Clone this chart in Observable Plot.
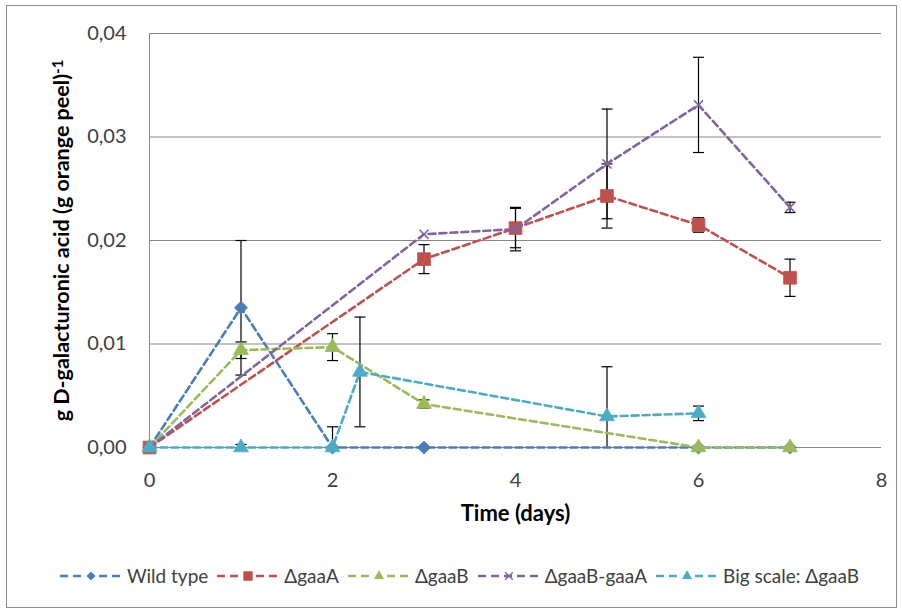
<!DOCTYPE html>
<html><head><meta charset="utf-8">
<script src="https://cdn.jsdelivr.net/npm/d3@7"></script>
<script src="https://cdn.jsdelivr.net/npm/@observablehq/plot@0.6"></script>
<style>
body{margin:0;background:#fff;font-family:Lato,"Open Sans",sans-serif}
#wrap{position:relative;width:902px;height:610px;overflow:hidden;background:#fff}
#frame{position:absolute;left:6px;top:5px;width:891px;height:603px;border:1.5px solid #8c8c8c;box-sizing:border-box}
#chart{position:absolute;left:0;top:0}
#legend{position:absolute;left:8px;top:564px;width:902px;display:flex;justify-content:center;align-items:center;font-size:19px;color:#404040}
.item{display:flex;align-items:center;margin:0 4px}
.item svg{margin-right:4px}
</style>
</head><body>
<div id="wrap"><div id="frame"></div><div id="chart"></div><div id="legend"></div></div>
<script>
// ---- data ----
const seriesNames = ["Wild type", "ΔgaaA", "ΔgaaB", "ΔgaaB-gaaA", "Big scale: ΔgaaB"];

const wtX   = [0, 1, 2, 3, 6, 7];
const wtY   = [0, 0.0135, 0, 0, 0, 0];
const wtErr = [0, 0.0065, 0.002, 0, 0, 0];

const aX   = [0, 3, 4, 5, 6, 7];
const aY   = [0, 0.0182, 0.0212, 0.0243, 0.0215, 0.0164];
const aErr = [0, 0.0014, 0.0019, 0.0031, 0.0007, 0.0018];

const bX   = [0, 1, 2, 3, 6, 7];
const bY   = [0, 0.0094, 0.0097, 0.0042, 0, 0];
const bErr = [0, 0.0008, 0.0013, 0.0004, 0, 0];

const baX   = [0, 3, 4, 5, 6, 7];
const baY   = [0, 0.0206, 0.0211, 0.0274, 0.0331, 0.0232];
const baErr = [0, 0, 0.0021, 0.0053, 0.0046, 0.0005];

const bsX   = [0, 1, 2, 2.3, 5, 6];
const bsY   = [0, 0, 0, 0.0073, 0.0030, 0.0033];
const bsErr = [0, 0.0003, 0, 0.0053, 0.0048, 0.0007];

const xTicks = [0, 2, 4, 6, 8];
const yTicks = [0, 0.01, 0.02, 0.03, 0.04];
const xLabel = "Time (days)";
const yLabelMain = "g D-galacturonic acid (g orange peel)";
const yLabelSup = "-1";

// ---- styles ----
const colors  = ["#4a7ebb", "#c0504d", "#9bbb59", "#8064a2", "#4bacc6"];
const symbols = ["diamond2", "square", "triangle", "times", "triangle"];
const sizes   = [5.9, 7.2, 5.5, 4.2, 5.5];

const raw = [[wtX, wtY, wtErr], [aX, aY, aErr], [bX, bY, bErr], [baX, baY, baErr], [bsX, bsY, bsErr]];
const series = raw.map(([xs, ys, es], i) => xs.map((x, j) => ({series: seriesNames[i], x, y: ys[j], err: es[j]})));

const capSymbol = {draw(ctx, size) { const w = 5.5; ctx.moveTo(-w, 0); ctx.lineTo(w, 0); }};
const fmt = d => d3.format(".2f")(d).replace(".", ",");

const marks = [
  Plot.gridY(yTicks, {stroke: "#868686", strokeOpacity: 1, strokeWidth: 1}),
  Plot.ruleX([0], {stroke: "#868686", strokeWidth: 1}),
  Plot.axisY(yTicks, {tickSize: 0, tickPadding: 23, tickFormat: fmt, fontSize: 20, color: "#404040", label: null}),
  Plot.axisX(xTicks, {tickSize: 0, tickPadding: 25, fontSize: 20, color: "#404040", label: null}),
  Plot.text([xLabel], {frameAnchor: "bottom", dy: 73, fontSize: 22, fontWeight: "bold", fill: "#000"}),
  Plot.text([yLabelMain], {frameAnchor: "left", textAnchor: "middle", dx: -87, rotate: -90, fontSize: 21.5, fontWeight: "bold", fill: "#000", className: "ylab"})
];

series.forEach((data, i) => {
  const errs = data.filter(d => d.err > 0);
  marks.push(
    Plot.ruleX(errs, {x: "x", y1: d => d.y - d.err, y2: d => d.y + d.err, stroke: "#000", strokeWidth: 1.2, clip: true}),
    Plot.dot(errs, {x: "x", y: d => d.y + d.err, symbol: capSymbol, stroke: "#000", fill: "none", strokeWidth: 1.2, clip: true}),
    Plot.dot(errs, {x: "x", y: d => d.y - d.err, symbol: capSymbol, stroke: "#000", fill: "none", strokeWidth: 1.2, clip: true})
  );
});
series.forEach((data, i) => {
  marks.push(Plot.line(data, {x: "x", y: "y", stroke: colors[i], strokeWidth: 2.6, strokeDasharray: "7,4"}));
  if (symbols[i] === "times")
    marks.push(Plot.dot(data, {x: "x", y: "y", symbol: "times", r: sizes[i], stroke: colors[i], strokeWidth: 1.6, fill: "none"}));
  else
    marks.push(Plot.dot(data, {x: "x", y: "y", symbol: symbols[i], r: sizes[i], fill: colors[i], stroke: colors[i], strokeWidth: 0.8}));
});

const chart = Plot.plot({
  width: 902, height: 545,
  marginLeft: 149, marginRight: 21, marginTop: 33, marginBottom: 98,
  style: {fontFamily: "Lato, 'Open Sans', sans-serif", background: "transparent"},
  x: {domain: [0, 8]},
  y: {domain: [0, 0.04]},
  marks
});
// superscript on the y-axis title
d3.select(chart).selectAll("g.ylab text").each(function() {
  d3.select(this).append("tspan").attr("dy", "-0.45em").attr("font-size", "15px").text(yLabelSup);
});
document.getElementById("chart").append(chart);

// ---- legend ----
const legend = document.getElementById("legend");
seriesNames.forEach((name, i) => {
  const item = document.createElement("div");
  item.className = "item";
  const svg = d3.create("svg").attr("width", 64).attr("height", 20);
  svg.append("line").attr("x1", 1).attr("x2", 63).attr("y1", 10).attr("y2", 10)
    .attr("stroke", colors[i]).attr("stroke-width", 2.6).attr("stroke-dasharray", "8,5");
  const symType = {diamond2: d3.symbolDiamond2, square: d3.symbolSquare, triangle: d3.symbolTriangle, times: d3.symbolTimes}[symbols[i]];
  const p = svg.append("path").attr("transform", "translate(32,10)")
    .attr("d", d3.symbol(symType, Math.PI * (sizes[i] * 0.85) ** 2)());
  if (symbols[i] === "times") p.attr("fill", "none").attr("stroke", colors[i]).attr("stroke-width", 1.4);
  else p.attr("fill", colors[i]).attr("stroke", "#fff").attr("stroke-width", 1.5);
  item.append(svg.node());
  const t = document.createElement("span");
  t.textContent = name;
  item.append(t);
  legend.append(item);
});
</script>
</body></html>
